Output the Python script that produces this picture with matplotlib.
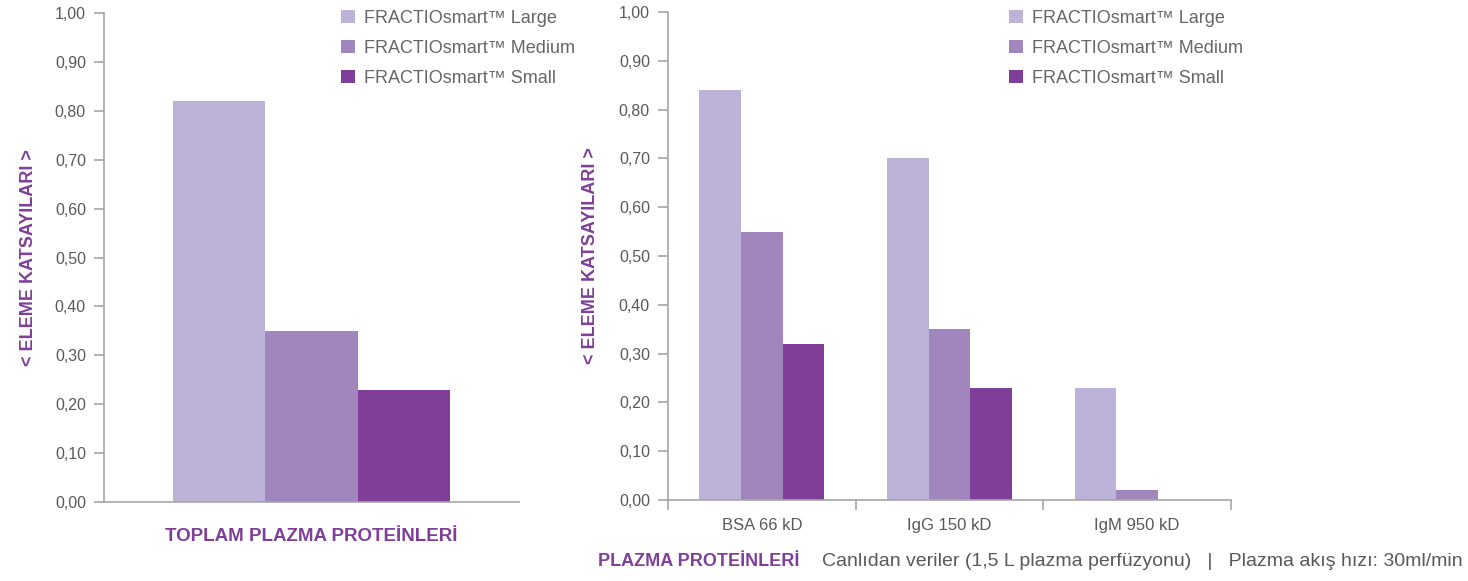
import numpy as np
import matplotlib.pyplot as plt
from matplotlib.ticker import FuncFormatter

# series
series_names = ['FRACTIOsmart™ Large', 'FRACTIOsmart™ Medium', 'FRACTIOsmart™ Small']
colors = ['#bdb3d9', '#a186be', '#7f3f98']

total_values = [0.82, 0.35, 0.23]

categories = ['BSA 66 kD', 'IgG 150 kD', 'IgM 950 kD']
large_vals = [0.84, 0.70, 0.23]
medium_vals = [0.55, 0.35, 0.02]
small_vals = [0.32, 0.23, 0.0]

yticks = np.arange(0, 1.01, 0.1)

PURPLE = '#7f3f98'
GREY_TXT = '#595959'
AXIS = '#a6a6a6'
FONT = ['Liberation Sans', 'DejaVu Sans']

fig = plt.figure(figsize=(14.68, 5.81), dpi=100)
ax1 = fig.add_axes([104/1468, 79/581, 415/1468, 489/581])
ax2 = fig.add_axes([668/1468, 81/581, 563/1468, 488/581])

bw = 0.222
comma = FuncFormatter(lambda v, p: f'{v:.2f}'.replace('.', ','))


def style_axis(ax, lpad):
    for s in ['top', 'right']:
        ax.spines[s].set_visible(False)
    for s in ['left', 'bottom']:
        ax.spines[s].set_color(AXIS)
        ax.spines[s].set_linewidth(1.2)
    ax.set_ylim(0, 1.0)
    ax.set_yticks(yticks)
    ax.yaxis.set_major_formatter(comma)
    ax.tick_params(axis='y', colors=AXIS, length=7, width=1.2, pad=6,
                   labelcolor=GREY_TXT)
    for lab in ax.get_yticklabels():
        lab.set_family(FONT)
        lab.set_fontsize(11.5)
    ax.set_ylabel('< ELEME KATSAYILARI >', color=PURPLE, fontsize=13,
                  fontweight='bold', family=FONT, labelpad=lpad)


# left chart: single group
for i, (name, v) in enumerate(zip(series_names, total_values)):
    ax1.bar((i - 1) * bw, v, width=bw, color=colors[i], label=name)
ax1.set_xlim(-0.5, 0.5)
ax1.set_xticks([])
style_axis(ax1, 13)
ax1.set_xlabel('TOPLAM PLAZMA PROTEİNLERİ', color=PURPLE, fontsize=13.5,
               fontweight='bold', family=FONT, labelpad=19)

# right chart: grouped
x = np.arange(len(categories))
for i, vals in enumerate([large_vals, medium_vals, small_vals]):
    ax2.bar(x + (i - 1) * bw, vals, width=bw, color=colors[i], label=series_names[i])
ax2.set_xlim(-0.5, len(categories) - 0.5)
style_axis(ax2, 14)
ax2.set_xticks(x)
ax2.set_xticklabels(categories, family=FONT, fontsize=12, color=GREY_TXT)
ax2.tick_params(axis='x', which='major', length=0, pad=13)
ax2.set_xticks(np.arange(-0.5, len(categories)), minor=True)
ax2.tick_params(axis='x', which='minor', length=7, width=1.2, colors=AXIS)

for ax, lx in [(ax1, 347), (ax2, 1015)]:
    ax.legend(loc='upper left', bbox_to_anchor=((lx - 6) / 1468, 1 - 10 / 581),
              bbox_transform=fig.transFigure, frameon=False,
              handlelength=0.75, handleheight=0.75, handletextpad=0.5,
              labelspacing=0.72, borderpad=0, borderaxespad=0,
              prop={'family': FONT, 'size': 13}, labelcolor='#666666')

fig.text(598 / 1468, 1 - 562 / 581, 'PLAZMA PROTEİNLERİ', color=PURPLE,
         fontsize=13, fontweight='bold', family=FONT, ha='left', va='center')
fig.text(1463 / 1468, 1 - 562 / 581,
         'Canlıdan veriler (1,5 L plazma perfüzyonu)   |   Plazma akış hızı: 30ml/min',
         color=GREY_TXT, fontsize=14, family=FONT, ha='right', va='center')

fig.savefig('out.png', dpi=100, facecolor='white')
